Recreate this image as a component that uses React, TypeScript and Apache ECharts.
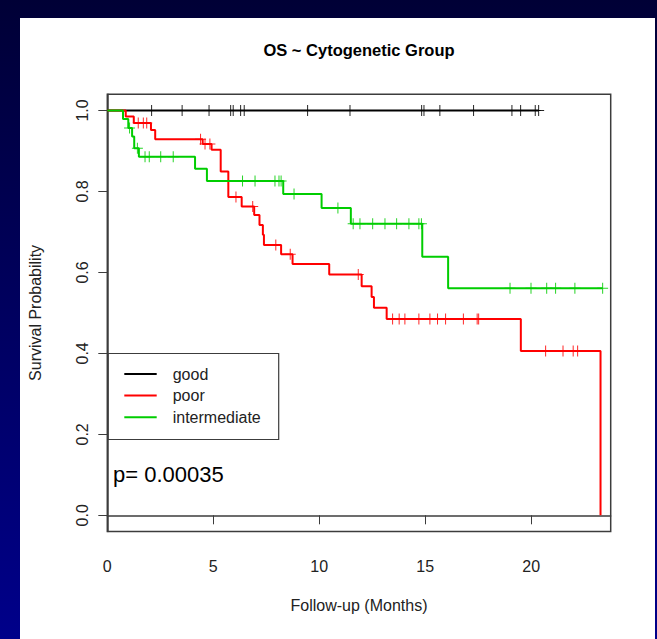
import React, { useEffect, useRef } from "react";
import * as echarts from "echarts";

const FONT = '"Liberation Sans", Arial, Helvetica, sans-serif';

// Kaplan–Meier step curves: [months, survival probability after the event]
const goodCurve: [number, number][] = [
  [0, 1],
  [20.35, 1],
];
const goodCensored = [
  2.09, 3.53, 4.8, 5.82, 5.94, 6.29, 6.46, 9.45, 11.45, 14.83, 14.94, 15.69,
  17.28, 19.09, 19.5, 20.19, 20.35,
];

const poorCurve: [number, number][] = [
  [0, 1],
  [0.87, 0.985],
  [1.25, 0.969],
  [2.06, 0.952],
  [2.26, 0.929],
  [4.5, 0.917],
  [4.92, 0.903],
  [5.35, 0.849],
  [5.71, 0.786],
  [6.34, 0.763],
  [6.93, 0.742],
  [7.18, 0.717],
  [7.34, 0.693],
  [7.39, 0.668],
  [8.2, 0.645],
  [8.74, 0.621],
  [10.47, 0.595],
  [12.0, 0.566],
  [12.47, 0.539],
  [12.58, 0.513],
  [13.18, 0.485],
  [19.51, 0.406],
  [23.27, 0],
];
const poorCensored = [
  1.46, 1.7, 1.86, 4.4, 4.61, 4.84, 6.07, 6.86, 7.95, 8.63, 11.84, 13.46,
  13.77, 14.04, 14.7, 15.22, 15.58, 15.96, 16.8, 17.45, 17.52, 20.68, 21.5,
  21.98, 22.19,
];

const intermediateCurve: [number, number][] = [
  [0, 1],
  [0.74, 0.979],
  [0.99, 0.957],
  [1.17, 0.936],
  [1.27, 0.907],
  [1.49, 0.886],
  [4.14, 0.856],
  [4.7, 0.826],
  [8.3, 0.794],
  [10.11, 0.759],
  [11.49, 0.72],
  [14.86, 0.639],
  [16.08, 0.561],
  [23.37, 0.561],
];
const intermediateCensored = [
  1.05, 1.42, 1.78, 1.98, 2.52, 3.11, 6.38, 6.97, 7.91, 8.1, 8.2, 8.81, 10.88,
  11.6, 11.92, 12.52, 13.1, 13.65, 14.23, 14.7, 14.82, 19.0, 19.99, 20.73,
  21.15, 22.06, 23.37,
];

const groupNames = ["good", "poor", "intermediate"];
const groupColors = ["#000000", "#ff0000", "#00cd00"];
const xTicks = [0, 5, 10, 15, 20];
const yTicks = [0, 0.2, 0.4, 0.6, 0.8, 1.0];
const chartTitle = "OS ~ Cytogenetic Group";
const xTitle = "Follow-up (Months)";
const yTitle = "Survival Probability";
const pValueText = "p= 0.00035";

// survival level of a step curve at time t
function levelAt(curve: [number, number][], t: number): number {
  let s = curve[0][1];
  for (const [time, value] of curve) {
    if (time <= t) s = value;
    else break;
  }
  return s;
}

const PLUS = "path://M5,0h1v5h5v1h-5v5h-1v-5h-5v-1h5z";

const W = 657;
const H = 639;

export default function App() {
  const ref = useRef<HTMLDivElement>(null);

  useEffect(() => {
    if (!ref.current) return;
    const chart = echarts.init(ref.current, undefined, { renderer: "svg" });

    const curves = [goodCurve, poorCurve, intermediateCurve];
    const censored = [goodCensored, poorCensored, intermediateCensored];

    const series: any[] = [];
    curves.forEach((curve, i) => {
      series.push({
        name: groupNames[i],
        type: "line",
        step: "end",
        data: curve,
        showSymbol: false,
        symbol: "none",
        lineStyle: { color: groupColors[i], width: 2 },
        z: 2 + i * 2,
      });
      series.push({
        name: groupNames[i] + "-censored",
        type: "scatter",
        data: censored[i].map((t) => [t, levelAt(curve, t)]),
        symbol: PLUS,
        symbolSize: [11, 11],
        itemStyle: { color: groupColors[i], opacity: 0.85 },
        z: 3 + i * 2,
      });
    });

    const legendTop = 353.5;
    const legendLeft = 108;
    const legendRows = [374, 395.6, 417.3];

    chart.setOption({
      animation: false,
      backgroundColor: new echarts.graphic.LinearGradient(0, 0, 0, 1, [
        { offset: 0, color: "#000036" },
        { offset: 1, color: "#00008a" },
      ]),
      grid: {
        left: 107.3,
        top: 94.3,
        right: W - 610.7,
        bottom: H - 531.5,
        show: true,
        borderColor: "#3c3c3c",
        borderWidth: 1.5,
        backgroundColor: "transparent",
      },
      xAxis: {
        type: "value",
        min: 0,
        max: 23.75,
        interval: 5,
        name: xTitle,
        nameLocation: "middle",
        nameGap: 66,
        nameTextStyle: { fontFamily: FONT, fontSize: 16, color: "#222" },
        axisLine: { show: true, lineStyle: { color: "#3c3c3c", width: 1.5 } },
        axisTick: {
          show: true,
          customValues: xTicks,
          length: 9,
          lineStyle: { color: "#3c3c3c", width: 1 },
        },
        axisLabel: {
          customValues: xTicks,
          margin: 27,
          fontFamily: FONT,
          fontSize: 16,
          color: "#222",
        },
        splitLine: { show: false },
      },
      yAxis: {
        type: "value",
        min: -0.04,
        max: 1.04,
        name: yTitle,
        nameLocation: "middle",
        nameGap: 64,
        nameTextStyle: { fontFamily: FONT, fontSize: 16, color: "#222" },
        axisLine: { show: true, lineStyle: { color: "#3c3c3c", width: 1.5 } },
        axisTick: {
          show: true,
          customValues: yTicks,
          length: 9,
          lineStyle: { color: "#3c3c3c", width: 1 },
        },
        axisLabel: {
          customValues: yTicks,
          rotate: 90,
          margin: 17,
          fontFamily: FONT,
          fontSize: 16,
          color: "#222",
          formatter: (v: number) => v.toFixed(1),
        },
        splitLine: { show: false },
      },
      graphic: [
        {
          type: "rect",
          z: -10,
          silent: true,
          shape: { x: 20, y: 18, width: W - 22, height: H - 18 },
          style: { fill: "#ffffff" },
        },
        {
          type: "text",
          x: 359,
          y: 50,
          style: {
            text: chartTitle,
            fontFamily: FONT,
            fontSize: 16.5,
            fontWeight: "bold",
            fill: "#000",
            textAlign: "center",
            textVerticalAlign: "middle",
          },
        },
        {
          type: "group",
          children: [
            {
              type: "rect",
              shape: { x: legendLeft, y: legendTop, width: 170.7, height: 86 },
              style: { fill: "#fff", stroke: "#3c3c3c", lineWidth: 1.2 },
            },
            ...groupNames.flatMap((name, i) => [
              {
                type: "line",
                shape: { x1: 124.3, y1: legendRows[i], x2: 156.7, y2: legendRows[i] },
                style: { stroke: groupColors[i], lineWidth: 2 },
              },
              {
                type: "text",
                x: 172.7,
                y: legendRows[i],
                style: {
                  text: name,
                  fontFamily: FONT,
                  fontSize: 16,
                  fill: "#222",
                  textAlign: "left",
                  textVerticalAlign: "middle",
                },
              },
            ]),
          ],
        },
        {
          type: "text",
          x: 113,
          y: 474,
          style: {
            text: pValueText,
            fontFamily: FONT,
            fontSize: 22,
            fill: "#000",
            textAlign: "left",
            textVerticalAlign: "middle",
          },
        },
      ],
      series,
    });

    return () => chart.dispose();
  }, []);

  return (
    <div
      ref={ref}
      style={{ position: "absolute", left: 0, top: 0, width: W, height: H }}
    />
  );
}
